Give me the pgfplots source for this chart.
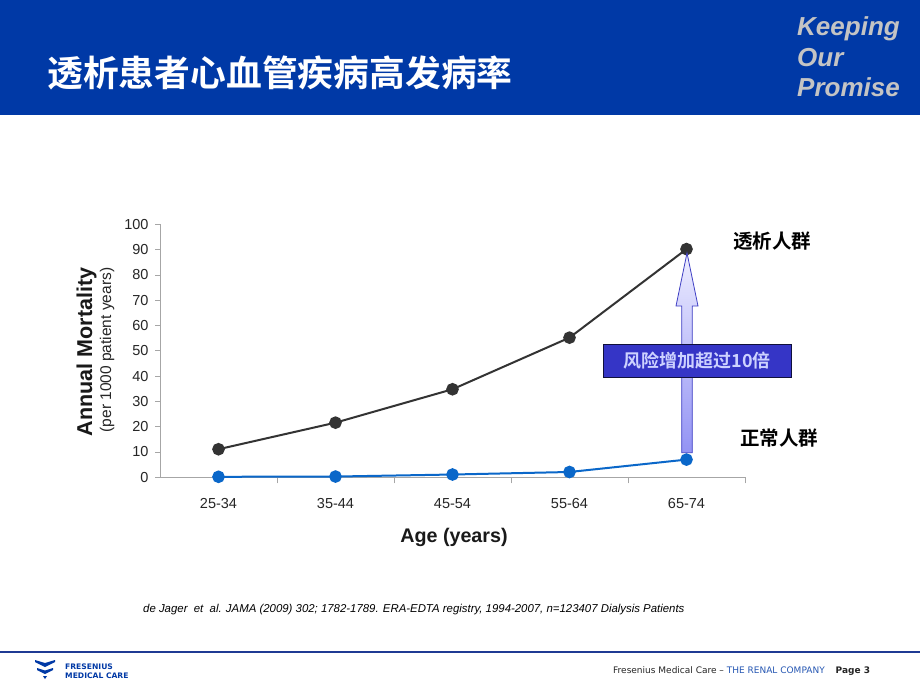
\documentclass[border=0pt]{standalone}
\usepackage{fontspec}
\setmainfont{Liberation Sans}
\newfontfamily\cjk{Noto Sans CJK SC}[BoldFont={Noto Sans CJK SC Bold}]
\newfontfamily\dejavu{DejaVu Sans}
\usepackage{pgfplots}
\pgfplotsset{compat=1.18}
\definecolor{fmcblue}{HTML}{0039A6}
\definecolor{fmcline}{HTML}{1F3A93}
\definecolor{dialysis}{HTML}{333333}
\definecolor{normal}{HTML}{0A67C9}
\definecolor{axisgray}{HTML}{A6A6A6}
\definecolor{promise}{HTML}{C4C4C4}
\definecolor{boxblue}{HTML}{3535C6}
\definecolor{boxtext}{HTML}{CDD2FF}
\definecolor{arrowtop}{HTML}{EDEDFF}
\definecolor{arrowbot}{HTML}{9393F4}
\definecolor{arrowedge}{HTML}{3F3FC4}

\begin{document}
\begin{tikzpicture}
\path[use as bounding box, fill=white] (0,0) rectangle (920pt,-690pt);
% header
\fill[fmcblue] (0,0) rectangle (920pt,-115pt);
\node[anchor=west, text=white, inner sep=0pt, font=\cjk\bfseries\fontsize{35.8}{38}\selectfont] at (47pt,-73pt) {透析患者心血管疾病高发病率};
\node[anchor=base west, inner sep=0pt, text=promise, font=\bfseries\itshape\fontsize{26}{30}\selectfont] at (797pt,-36pt) {Keeping};
\node[anchor=base west, inner sep=0pt, text=promise, font=\bfseries\itshape\fontsize{26}{30}\selectfont] at (797pt,-67pt) {Our};
\node[anchor=base west, inner sep=0pt, text=promise, font=\bfseries\itshape\fontsize{26}{30}\selectfont] at (797pt,-97pt) {Promise};

\begin{axis}[
  at={(160pt,-477.3pt)}, anchor=south west,
  scale only axis, width=585pt, height=253pt,
  xmin=-0.5, xmax=4.5, ymin=0, ymax=100,
  axis x line=bottom, axis y line=left,
  axis line style={-, draw=axisgray, line width=0.8pt},
  tick style={draw=axisgray, line width=0.8pt},
  tick align=outside,
  major tick length=5pt, minor tick length=6pt,
  xtick={0,1,2,3,4},
  xticklabels={25-34,35-44,45-54,55-64,65-74},
  minor xtick={0.5,1.5,2.5,3.5,4.5},
  every major x tick/.append style={draw=none},
  ytick={0,10,...,100},
  /pgf/number format/assume math mode=true,
  tick label style={font=\fontsize{14.5}{16}\selectfont, text=black!85},
  xticklabel style={yshift=-13pt},
  yticklabel style={xshift=-3pt},
  clip=false,
]
\addplot[dialysis, line width=2pt, mark=*, mark size=5.3pt, mark options={fill=dialysis, draw=dialysis}] coordinates {
  (0,11.1) (1,21.6) (2,34.8) (3,55.2) (4,90.2)
};
\addplot[normal, line width=2pt, mark=*, mark size=5.3pt, mark options={fill=normal, draw=normal}] coordinates {
  (0,0.2) (1,0.3) (2,1.1) (3,2.1) (4,7.0)
};
\end{axis}

% axis titles
\node[rotate=90, font=\bfseries\fontsize{21.5}{22}\selectfont, text=black!90] at (86.5pt,-352pt) {Annual Mortality};
\node[rotate=90, font=\fontsize{15.5}{17}\selectfont, text=black!85] at (107pt,-350pt) {(per 1000 patient years)};
\node[font=\bfseries\fontsize{19.7}{21}\selectfont, text=black!90] at (454pt,-537pt) {Age (years)};

% arrow annotation
\shadedraw[top color=arrowtop, bottom color=arrowbot, draw=arrowedge, line width=0.8pt]
  (681.7pt,-452.7pt) -- (681.7pt,-306pt) -- (676pt,-306pt) -- (687pt,-253pt)
  -- (698pt,-306pt) -- (692.3pt,-306pt) -- (692.3pt,-452.7pt) -- cycle;
\node[fill=boxblue, draw=black!70!boxblue, line width=0.6pt, minimum width=188pt, minimum height=33pt, inner sep=0pt,
  text=boxtext, font=\cjk\bfseries\fontsize{18}{20}\selectfont] at (697pt,-360.5pt) {风险增加超过10倍};

% series labels
\node[font=\cjk\bfseries\fontsize{19.5}{20}\selectfont] at (772pt,-241pt) {透析人群};
\node[font=\cjk\bfseries\fontsize{19.5}{20}\selectfont] at (779pt,-438pt) {正常人群};

% citation
\node[anchor=west, inner sep=0pt, font=\itshape\fontsize{11.4}{13}\selectfont] at (143pt,-610pt)
  {de Jager\ \ et\ \ al. JAMA (2009) 302; 1782-1789. ERA-EDTA registry, 1994-2007, n=123407 Dialysis Patients};

% footer
\draw[fmcline, line width=1.6pt] (0,-652pt) -- (920pt,-652pt);
\fill[fmcblue] (35pt,-660pt) -- (45pt,-663pt) -- (55pt,-660pt) -- (55pt,-662pt) -- (45pt,-667pt) -- (35pt,-662pt) -- cycle;
\fill[fmcblue] (37pt,-668pt) -- (45pt,-670.5pt) -- (53pt,-668pt) -- (53pt,-670pt) -- (45pt,-674pt) -- (37pt,-670pt) -- cycle;
\fill[fmcblue] (43pt,-676pt) -- (47pt,-676pt) -- (45pt,-679pt) -- cycle;
\node[anchor=west, inner sep=0pt, text=fmcblue, font=\dejavu\bfseries\fontsize{7.6}{9}\selectfont] at (65pt,-666.5pt) {FRESENIUS};
\node[anchor=west, inner sep=0pt, text=fmcblue, font=\dejavu\bfseries\fontsize{7.6}{9}\selectfont] at (65pt,-676pt) {MEDICAL CARE};
\node[anchor=west, inner sep=0pt, font=\dejavu\fontsize{9}{11}\selectfont, text=black!85] at (613pt,-671.5pt)
  {Fresenius Medical Care – \textcolor{fmcblue!85!white}{THE RENAL COMPANY}\hspace{11pt}{\bfseries Page 3}};
\end{tikzpicture}
\end{document}
